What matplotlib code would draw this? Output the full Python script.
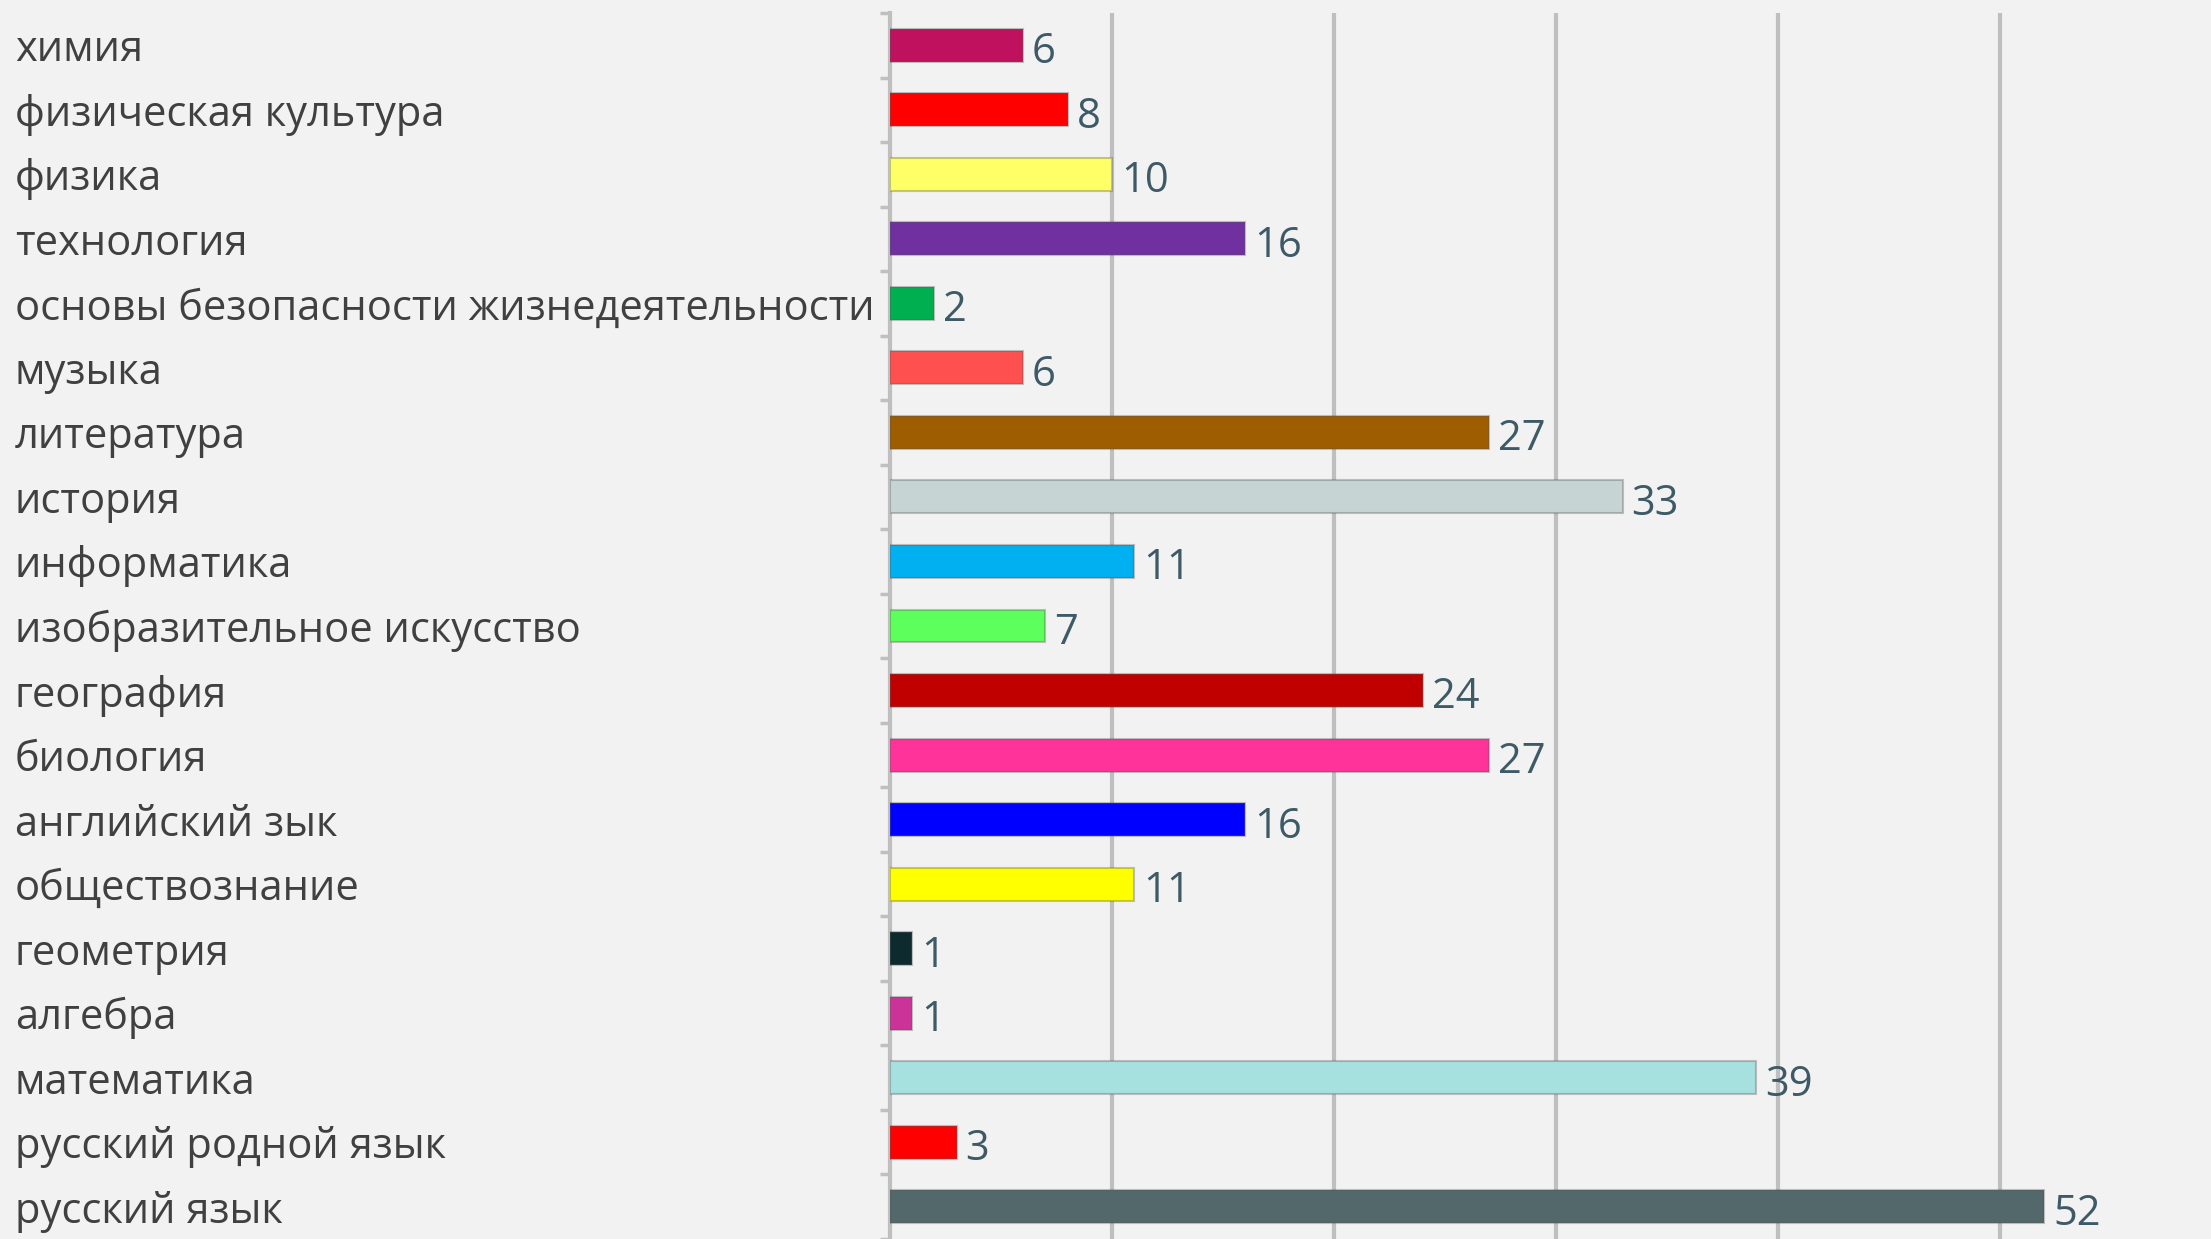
import matplotlib
matplotlib.use("Agg")
import matplotlib.pyplot as plt
from matplotlib.ticker import FixedLocator

categories = [
    "химия", "физическая культура", "физика", "технология",
    "основы безопасности жизнедеятельности", "музыка", "литература",
    "история", "информатика", "изобразительное искусство", "география",
    "биология", "английский зык", "обществознание", "геометрия",
    "алгебра", "математика", "русский родной язык", "русский язык",
]
values = [6, 8, 10, 16, 2, 6, 27, 33, 11, 7, 24, 27, 16, 11, 1, 1, 39, 3, 52]
colors = [
    "#c0115e", "#ff0000", "#ffff66", "#7030a0", "#00b050", "#ff5050",
    "#9e5e00", "#c7d4d4", "#00b0f0", "#5cff5c", "#c00000", "#ff3399",
    "#0000ff", "#ffff00", "#0d2a2e", "#cc3399", "#a6e1df", "#ff0000",
    "#52686b",
]
grid_values = [10, 20, 30, 40, 50]

W, H, DPI = 2211, 1239, 100
fig = plt.figure(figsize=(W / DPI, H / DPI), dpi=DPI, facecolor="#f2f2f2")
ax = fig.add_axes([890 / W, 0, 1 - 890 / W, 1 - 13 / H])
ax.set_facecolor("#f2f2f2")

y = list(range(len(categories)))
ax.barh(y, values, height=0.51, color=colors,
        edgecolor=(0.35, 0.35, 0.35, 0.35), linewidth=1.5, zorder=3)

for yi, v in zip(y, values):
    ax.text(v + 0.4, yi + 0.03, str(v), va="center_baseline", ha="left",
            fontsize=30, color="#3d5a66", family="Open Sans", zorder=4)

ax.set_xlim(0, 59.5)
ax.set_ylim(len(categories) - 0.5, -0.5)

for g in grid_values:
    ax.axvline(g, color="#bfbfbf", linewidth=3, zorder=1)

for s in ["top", "right", "bottom"]:
    ax.spines[s].set_visible(False)
ax.spines["left"].set_color("#bfbfbf")
ax.spines["left"].set_linewidth(3)

ax.set_xticks([])
ax.set_yticks(y)
ax.set_yticklabels(categories, ha="left", fontsize=30, color="#404040",
                   family="Open Sans")
ax.tick_params(axis="y", which="major", length=0, pad=(890 - 15) / DPI * 72)
ax.yaxis.set_minor_locator(FixedLocator([i - 0.5 for i in range(len(categories) + 1)]))
ax.tick_params(axis="y", which="minor", length=7, width=2.5, color="#bfbfbf")

fig.savefig("out.png", dpi=DPI, facecolor="#f2f2f2")
